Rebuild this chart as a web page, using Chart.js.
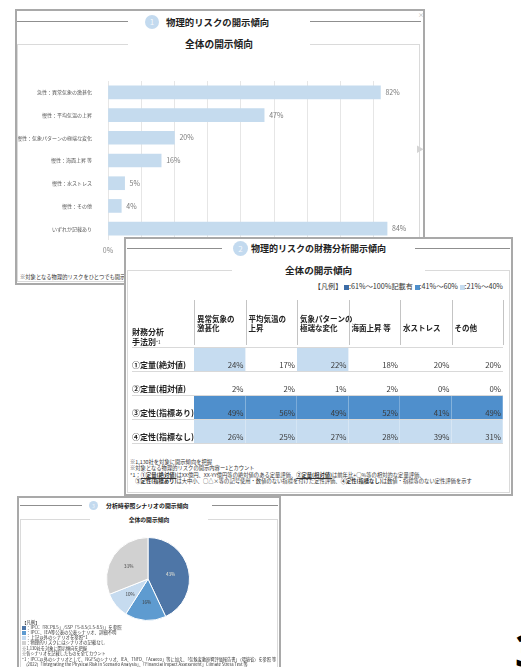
<!DOCTYPE html>
<html lang="ja">
<head>
<meta charset="utf-8">
<title>物理的リスクの開示傾向</title>
<script src="https://cdn.jsdelivr.net/npm/chart.js@4.4.1/dist/chart.umd.min.js"></script>
<style>
  body { margin:0; width:521px; height:667px; overflow:hidden; background:#fff; position:relative;
         font-family:"Noto Sans CJK JP","Noto Sans",sans-serif; color:#222; }
  .panel { position:absolute; background:#fff; box-shadow: inset 0 0 0 2px #a9a9a9; overflow:hidden; }
  .abs { position:absolute; white-space:nowrap; }
  .rule { position:absolute; height:1px; background:#8f8f8f; }
  .box { position:absolute; border:1px solid #dadada; box-sizing:border-box; }
  .num { position:absolute; border-radius:50%; background:#c3daef; color:#f5f9fd; text-align:center; }
  .gap { position:absolute; background:#fff; }
  canvas { position:absolute; }
  .sq { display:inline-block; vertical-align:middle; }
</style>
</head>
<body>

<!-- ① -->
<div class="panel" style="left:15px;top:9px;width:410px;height:276px;z-index:1">
  <div class="rule" style="left:2px;top:12px;width:111px"></div>
  <div class="rule" style="left:295px;top:12px;width:111px"></div>
  <div class="num" style="left:130px;top:6px;width:14px;height:14px;line-height:14px;font-size:8px">1</div>
  <div class="abs" style="left:151px;top:6px;height:14px;line-height:14px;font-size:9.4px;font-weight:bold">物理的リスクの開示傾向</div>
  <div class="abs" style="left:403px;top:1px;font-size:6px;color:#aaa">×</div>
  <div class="box" style="left:2px;top:35px;width:403px;height:238px"></div>
  <div class="gap" style="left:113px;top:30px;width:182px;height:12px"></div>
  <div class="abs" style="left:113px;top:28px;width:182px;height:14px;line-height:14px;text-align:center;font-size:9.7px;font-weight:bold">全体の開示傾向</div>
  <canvas id="riskChart" width="406" height="192" style="left:3px;top:61px"></canvas>
  <div class="abs" style="left:401px;top:134px;font-size:8px;color:#d4d4d4">▶</div>
  <div class="abs" style="left:5px;top:264px;font-size:5.3px;color:#333">※対象となる物理的リスクをひとつでも開示している企業の割合</div>
</div>

<!-- ② -->
<div class="panel" style="left:124px;top:237px;width:389px;height:259px;z-index:2">
  <div class="rule" style="left:3px;top:11px;width:95px"></div>
  <div class="rule" style="left:291px;top:11px;width:95px"></div>
  <div class="num" style="left:109px;top:4px;width:15px;height:15px;line-height:15px;font-size:8px">2</div>
  <div class="abs" style="left:127px;top:4px;height:15px;line-height:15px;font-size:9px;font-weight:bold">物理的リスクの財務分析開示傾向</div>
  <div class="box" style="left:3px;top:33px;width:383px;height:223px"></div>
  <div class="gap" style="left:108px;top:28px;width:193px;height:12px"></div>
  <div class="abs" style="left:161px;top:26px;height:14px;line-height:14px;font-size:9.6px;font-weight:bold">全体の開示傾向</div>
  <div class="abs" id="bandLegend" style="right:10px;top:44px;font-size:7.2px;color:#333"></div>
  <canvas id="tableChart" width="383" height="152" style="left:3px;top:59px"></canvas>
  <div class="abs" style="left:8px;top:90px;font-size:8px;line-height:10px;font-weight:bold">財務分析<br>手法別<span style="font-size:4.5px;vertical-align:top;font-weight:normal">*1</span></div>
  <div class="abs" style="left:6px;top:222px;font-size:5.3px;line-height:6.4px;color:#333">
    ※1,130社を対象に開示傾向を把握<br>
    ※対象となる物理的リスクの開示内容ー1とカウント<br>
    *1：<b><u>①定量(絶対値)</u></b>はXX億円、XX-YY億円等の絶対値のある定量評価、<b><u>②定量(相対値)</u></b>は前年比+○%等の相対的な定量評価、<br>
    　<b>③定性(指標あり)</b>は大中小、○△×等の記号使用・数値のない指標を付けた定性評価、<b>④定性(指標なし)</b>は数値・指標等のない定性評価を示す
  </div>
</div>

<!-- ③ -->
<div class="panel" style="left:17px;top:496px;width:264px;height:180px;z-index:3">
  <div class="rule" style="left:3px;top:9px;width:62px"></div>
  <div class="rule" style="left:195px;top:9px;width:66px"></div>
  <div class="num" style="left:72px;top:5px;width:9px;height:9px;line-height:9px;font-size:5px">3</div>
  <div class="abs" style="left:89px;top:5px;height:9px;line-height:9px;font-size:5.9px;font-weight:bold">分析時参照シナリオの開示傾向</div>
  <div class="box" style="left:3px;top:23px;width:258px;height:160px"></div>
  <div class="gap" style="left:73px;top:20px;width:118px;height:8px"></div>
  <div class="abs" style="left:73px;top:19px;width:118px;height:9px;line-height:9px;text-align:center;font-size:5.8px;font-weight:bold">全体の開示傾向</div>
  <canvas id="scenarioChart" width="88" height="88" style="left:87px;top:39px"></canvas>
  <div class="abs" id="scenarioLegend" style="left:5px;top:124px;font-size:4.4px;line-height:5px;color:#333"></div>
  <div class="abs" style="left:5px;top:150px;font-size:4.2px;line-height:5.4px;color:#333">
    ※1,130社を対象に開示傾向を把握<br>
    ※各シナリオを記載したものを全てカウント<br>
    *1：IPCC以外のシナリオとして、NGFSのシナリオ、IEA、TNFD、「Acaeco」等に加え、「気候変動影響評価報告書」（環境省）を参照 等<br>
    　(2022)「Integrating the Physical Risk in Scenario Analysis」、「Financial Impact Assessment」Climate Stress Test 等
  </div>
</div>

<div class="abs" style="left:515px;top:628px;font-family:'Noto Sans',sans-serif;font-size:44px;line-height:44px;font-weight:bold;color:#000;z-index:4">3</div>

<script>
const FONT = '"Noto Sans CJK JP", "Noto Sans", sans-serif';

// ① 物理的リスクの開示傾向
const riskLabels = ['急性：異常気象の激甚化', '慢性：平均気温の上昇', '慢性：気象パターンの極端な変化',
                    '慢性：海面上昇 等', '慢性：水ストレス', '慢性：その他', 'いずれか記載あり'];
const riskValues = [82, 47, 20, 16, 5, 4, 84];
const riskMax = 90;

// ② 物理的リスクの財務分析開示傾向
const methodLabels = ['①定量(絶対値)', '②定量(相対値)', '③定性(指標あり)', '④定性(指標なし)'];
const columnLabels = [['異常気象の', '激甚化'], ['平均気温の', '上昇'], ['気象パターンの', '極端な変化'],
                      '海面上昇 等', '水ストレス', 'その他'];
const absoluteValues = [24, 17, 22, 18, 20, 20];
const relativeValues = [2, 2, 1, 2, 0, 0];
const qualIndexValues = [49, 56, 49, 52, 41, 49];
const qualNoIndexValues = [26, 25, 27, 28, 39, 31];
const bandNames = ['61%〜100%記載有', '41%〜60%', '21%〜40%'];
const bandColors = ['#3d6ca6', '#4f8fcc', '#c6dcf0'];

// ③ 分析時参照シナリオの開示傾向
const scenarioLabels = ['IPCC「RCP8.5」/SSP「5-8.5(1.5-8.5)」を参照', 'IPCC、IEA等公表の公表シナリオ、詳細不明',
                        '上記以外のシナリオを参照*1', '物理的リスクにはシナリオの記載なし'];
const scenarioValues = [43, 16, 10, 31];
const scenarioColors = ['#4e76a7', '#5e9bd0', '#c6dbef', '#d1d1d1'];

// バーの右に % を表示
const barLabels = {
  id: 'barLabels',
  afterDatasetsDraw(chart) {
    const ctx = chart.ctx;
    const ds = chart.data.datasets[0];
    ctx.save();
    ctx.font = '7px ' + FONT;
    ctx.fillStyle = '#7a7a7a';
    ctx.textBaseline = 'middle';
    chart.getDatasetMeta(0).data.forEach((bar, i) => {
      ctx.fillText(ds.data[i] + '%', bar.x + 5, bar.y);
    });
    ctx.restore();
  }
};

new Chart(document.getElementById('riskChart'), {
  type: 'bar',
  data: {
    labels: riskLabels,
    datasets: [{ data: riskValues, backgroundColor: '#c5dbee', barThickness: 13 }]
  },
  options: {
    indexAxis: 'y',
    responsive: false,
    animation: false,
    devicePixelRatio: 1,
    layout: { padding: { top: 11, right: 17 } },
    plugins: { legend: { display: false }, tooltip: { enabled: false } },
    scales: {
      x: {
        min: 0, max: riskMax,
        ticks: { stepSize: 10, callback: v => v + '%', color: '#888', font: { family: FONT, size: 7 }, padding: 6 },
        grid: { color: c => (c.tick && c.tick.value === riskMax) ? 'rgba(0,0,0,0)' : '#e6e6e6', drawTicks: false },
        border: { display: false },
        afterFit: s => { s.height = 22; }
      },
      y: {
        ticks: { color: '#555', font: { family: FONT, size: 5 }, padding: 8 },
        grid: { display: false },
        border: { display: false },
        afterFit: s => { s.width = 90; }
      }
    }
  },
  plugins: [barLabels]
});

// 表（ヒートマップ）
function bandColor(v) {
  if (v >= 61) return bandColors[0];
  if (v >= 41) return bandColors[1];
  if (v >= 21) return bandColors[2];
  return null;
}

document.getElementById('bandLegend').innerHTML = '【凡例】 ' + bandNames.map((n, i) =>
  '<span class="sq" style="width:5px;height:5px;background:' + bandColors[i] + '"></span>:' + n).join(' ');

// x = 列番号, y = 行番号（カテゴリ軸のインデックス）
const tableRows = [absoluteValues, relativeValues, qualIndexValues, qualNoIndexValues];
const cellPoints = [];
tableRows.forEach((row, r) => row.forEach((v, c) => {
  cellPoints.push({ x: c, y: r, v: v });
}));

const tableCells = {
  id: 'tableCells',
  beforeDatasetsDraw(chart) {
    const { ctx, chartArea } = chart;
    const xs = chart.scales.x, ys = chart.scales.y;
    const colW = (chartArea.right - chartArea.left) / columnLabels.length;
    const rowH = (chartArea.bottom - chartArea.top) / methodLabels.length;
    ctx.save();
    cellPoints.forEach(p => {
      const fill = bandColor(p.v);
      if (!fill) return;
      const cx = xs.getPixelForValue(p.x), cy = ys.getPixelForValue(p.y);
      ctx.fillStyle = fill;
      ctx.fillRect(cx - colW / 2, cy - rowH / 2, colW, rowH);
      ctx.fillStyle = 'rgba(255,255,255,0.5)';
      ctx.fillRect(Math.round(cx + colW / 2) - 0.5, cy - rowH / 2, 1, rowH);
    });
    // 見出しの縦線
    ctx.strokeStyle = '#c4c4c4';
    ctx.lineWidth = 1;
    for (let c = 0; c <= columnLabels.length; c++) {
      const px = Math.round(xs.getPixelForValue(c) - colW / 2) + 0.5;
      ctx.beginPath();
      ctx.moveTo(px, chartArea.top - 47);
      ctx.lineTo(px, chartArea.top - 2);
      ctx.stroke();
    }
    // 行の区切り線
    ctx.strokeStyle = '#d9d9d9';
    for (let r = -1; r < methodLabels.length; r++) {
      const py = Math.round(ys.getPixelForValue(r) + rowH / 2) + 0.5;
      ctx.beginPath();
      ctx.moveTo(ys.left, py);
      ctx.lineTo(chartArea.right, py);
      ctx.stroke();
    }
    ctx.restore();
  },
  afterDatasetsDraw(chart) {
    const { ctx, chartArea } = chart;
    const xs = chart.scales.x, ys = chart.scales.y;
    const colW = (chartArea.right - chartArea.left) / columnLabels.length;
    const rowH = (chartArea.bottom - chartArea.top) / methodLabels.length;
    ctx.save();
    ctx.font = '7.8px ' + FONT;
    ctx.fillStyle = '#3a3a3a';
    ctx.textAlign = 'right';
    ctx.textBaseline = 'middle';
    cellPoints.forEach(p => {
      const cx = xs.getPixelForValue(p.x), cy = ys.getPixelForValue(p.y);
      ctx.fillText(p.v + '%', cx + colW / 2 - 2, cy + rowH / 2 - 6);
    });
    ctx.restore();
  }
};

new Chart(document.getElementById('tableChart'), {
  type: 'scatter',
  data: { datasets: [{ data: cellPoints, pointRadius: 0, pointHoverRadius: 0 }] },
  options: {
    parsing: false,
    responsive: false,
    animation: false,
    devicePixelRatio: 1,
    layout: { padding: { left: 5, right: 7, bottom: 3 } },
    plugins: { legend: { display: false }, tooltip: { enabled: false } },
    scales: {
      x: {
        type: 'category', labels: columnLabels, position: 'top', offset: true,
        grid: { display: false }, border: { display: false },
        ticks: { autoSkip: false, maxRotation: 0, align: 'start', labelOffset: -22.7, padding: 6,
                 color: '#222', font: { family: FONT, size: 7.5, weight: 'bold', lineHeight: 1.25 } },
        afterFit: s => { s.height = 51; }
      },
      y: {
        type: 'category', labels: methodLabels, offset: true,
        grid: { display: false }, border: { display: false },
        ticks: { crossAlign: 'far', labelOffset: 6, padding: 0, color: '#222',
                 font: { family: FONT, size: 8, weight: 'bold' } },
        afterFit: s => { s.width = 62; }
      }
    }
  },
  plugins: [tableCells]
});

// 円グラフ
document.getElementById('scenarioLegend').innerHTML = '【凡例】<br>' + scenarioLabels.map((n, i) =>
  '<span class="sq" style="width:4px;height:4px;background:' + scenarioColors[i] + '"></span>：' + n).join('<br>');

const pieLabels = {
  id: 'pieLabels',
  afterDatasetsDraw(chart) {
    const ctx = chart.ctx;
    ctx.save();
    ctx.font = '4.6px ' + FONT;
    ctx.textAlign = 'center';
    ctx.textBaseline = 'middle';
    chart.getDatasetMeta(0).data.forEach((arc, i) => {
      const mid = (arc.startAngle + arc.endAngle) / 2;
      const r = arc.outerRadius * 0.56;
      ctx.fillStyle = i === 0 ? '#e9e6d6' : '#3a3a3a';
      ctx.fillText(scenarioValues[i] + '%', arc.x + Math.cos(mid) * r, arc.y + Math.sin(mid) * r);
    });
    ctx.restore();
  }
};

new Chart(document.getElementById('scenarioChart'), {
  type: 'pie',
  data: {
    labels: scenarioLabels,
    datasets: [{ data: scenarioValues, backgroundColor: scenarioColors, borderColor: '#fff', borderWidth: 1 }]
  },
  options: {
    responsive: false,
    animation: false,
    devicePixelRatio: 1,
    layout: { padding: 2 },
    plugins: { legend: { display: false }, tooltip: { enabled: false } }
  },
  plugins: [pieLabels]
});
</script>
</body>
</html>
